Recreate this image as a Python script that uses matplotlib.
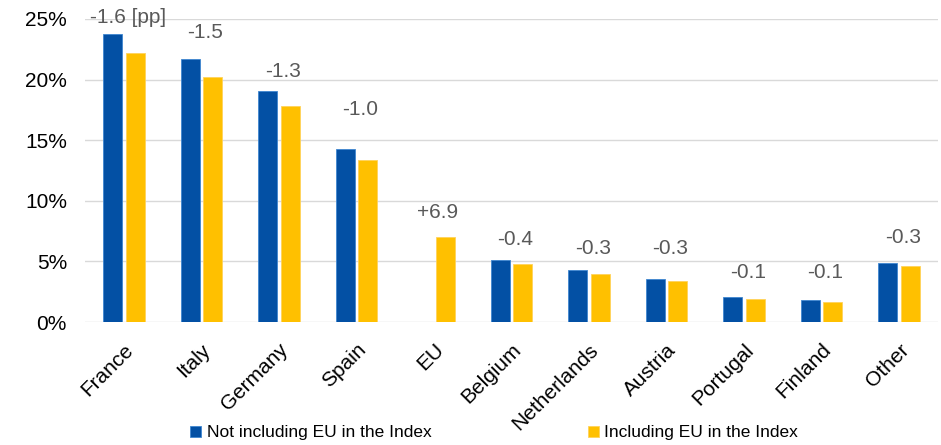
import numpy as np
import matplotlib
matplotlib.use("Agg")
import matplotlib.pyplot as plt
from matplotlib.ticker import FuncFormatter

plt.rcParams['font.family'] = ['Liberation Sans', 'DejaVu Sans']

categories = ["France", "Italy", "Germany", "Spain", "EU", "Belgium", "Netherlands",
              "Austria", "Portugal", "Finland", "Other"]
not_incl = [23.8, 21.7, 19.1, 14.3, np.nan, 5.1, 4.25, 3.57, 2.06, 1.79, 4.9]
incl = [22.2, 20.2, 17.8, 13.4, 7.0, 4.75, 3.93, 3.38, 1.92, 1.68, 4.6]
diff_labels = ["-1.6 [pp]", "-1.5", "-1.3", "-1.0", "+6.9", "-0.4", "-0.3", "-0.3", "-0.1", "-0.1", "-0.3"]
label_y = [25.1, 23.9, 20.7, 17.5, 9.0, 6.8, 6.1, 6.1, 4.1, 4.1, 7.0]
yticks = [0, 5, 10, 15, 20, 25]

blue = "#0350A4"
yellow = "#FFC000"

fig = plt.figure(figsize=(9.41, 4.45), dpi=100)
ax = fig.add_axes([85/941, 1 - 322/445, 853/941, (322 - 19)/445])

x = np.arange(len(categories))
w = 0.245
off = 0.145
ax.bar(x - off, not_incl, width=w, color=blue, edgecolor="#3F86D0", linewidth=0.6,
       label="Not including EU in the Index", zorder=3)
ax.bar(x + off, incl, width=w, color=yellow, edgecolor="#FFD35A", linewidth=0.6,
       label="Including EU in the Index", zorder=3)

for xi, lab, yy in zip(x, diff_labels, label_y):
    ax.text(xi + 0.05, yy, lab, ha='center', va='center', fontsize=15, color="#595959",
            clip_on=False)

ax.set_xlim(-0.5, len(categories) - 0.5)
ax.set_ylim(0, 25)
ax.set_yticks(yticks)
ax.yaxis.set_major_formatter(FuncFormatter(lambda v, p: f"{int(v)}%"))
ax.grid(axis='y', color="#D9D9D9", linewidth=1.0, zorder=0)
ax.set_axisbelow(True)
for s in ax.spines.values():
    s.set_visible(False)
ax.tick_params(axis='both', length=0, colors="black")
ax.tick_params(axis='y', pad=13, labelsize=15)
ax.set_xticks(x)
ax.set_xticklabels(categories, rotation=45, ha='right', rotation_mode='anchor', fontsize=15)
ax.tick_params(axis='x', pad=13)

leg = fig.legend(loc='center', bbox_to_anchor=(494/941, 1 - 433/445), ncol=2, frameon=False,
                 fontsize=12.5, handlelength=0.65, handleheight=0.65, handletextpad=0.3,
                 columnspacing=9.0)

fig.savefig("out.png", dpi=100)
